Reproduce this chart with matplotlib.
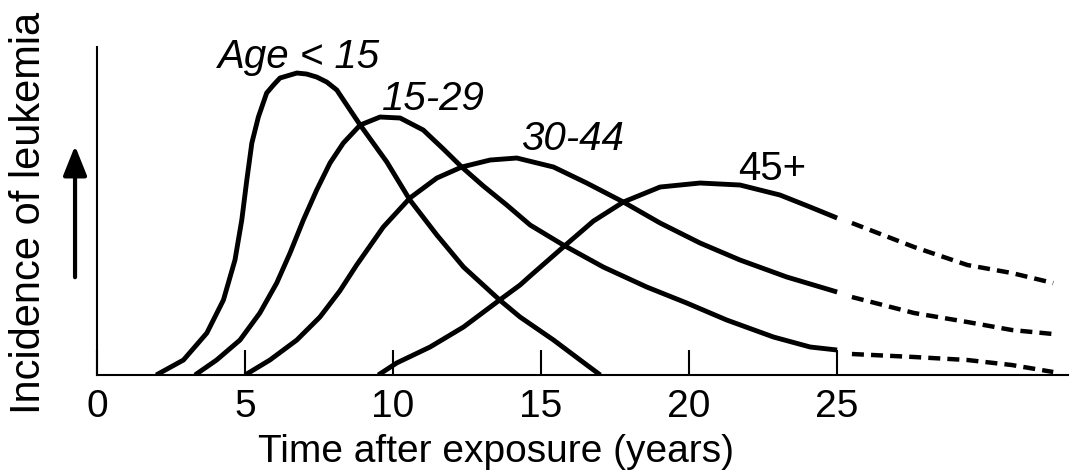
import matplotlib
matplotlib.use("Agg")
import matplotlib.pyplot as plt
from matplotlib.patches import FancyArrowPatch

plt.rcParams['font.family'] = ['Liberation Sans', 'DejaVu Sans']

# curves (x = years, y = relative incidence, arbitrary units)
age_lt15_x = [2.0, 2.92, 3.71, 4.27, 4.66, 4.89, 5.06, 5.23, 5.45, 5.73, 5.96, 6.18, 6.75, 7.08,
              7.42, 7.76, 8.1, 8.55, 8.89, 9.79, 10.57, 11.48, 12.38, 13.6, 14.29, 15.42, 16.32, 17.0]
age_lt15_y = [0, 15, 42, 75, 115, 155, 195, 232, 258, 282, 290, 297, 302, 301,
              298, 293, 285, 265, 250, 213, 175, 140, 108, 75, 58, 35, 15, 0]

age_15_29_x = [3.31, 4.04, 4.83, 5.5, 6.07, 6.52, 6.97, 7.42, 7.87, 8.32, 8.89, 9.56, 10.24, 11.02,
               11.7, 12.32, 13.05, 13.84, 14.63, 15.75, 17.1, 18.57, 19.92, 21.27, 22.85, 24.09, 25.0]
age_15_29_y = [0, 15, 35, 62, 92, 122, 155, 185, 212, 232, 250, 258, 257, 245,
               226, 208, 189, 170, 150, 130, 108, 88, 72, 55, 38, 28, 25]

age_30_44_x = [5.0, 5.84, 6.75, 7.53, 8.2, 8.77, 9.67, 10.57, 11.48, 12.32, 13.28, 14.18, 15.42,
               16.54, 17.78, 19.02, 20.37, 21.72, 23.3, 25.0]
age_30_44_y = [0, 15, 35, 58, 84, 110, 148, 177, 197, 208, 215, 217, 208,
               192, 173, 152, 132, 115, 98, 83]

age_45_x = [9.5, 10.12, 11.25, 12.38, 13.6, 14.29, 14.63, 15.75, 16.77, 17.78, 19.02, 20.37,
            21.72, 23.07, 24.09, 25.0]
age_45_y = [0, 12, 28, 48, 75, 90, 99, 128, 154, 173, 188, 192,
            190, 180, 168, 157]

# dashed continuations beyond 25 years
ext_x = [25.5, 27.6, 29.4, 30.9, 32.3]
ext_15_29_y = [21, 18, 15, 10, 3]
ext_30_44_y = [78, 62, 53, 45, 41]
ext_45_y = [152, 128, 110, 102, 92]

ticks = [0, 5, 10, 15, 20, 25]

labels = ['Age < 15', '15-29', '30-44', '45+']
label_x = [6.82, 11.35, 16.05, 22.8]
label_y = [307, 265, 225, 195]
label_style = ['italic', 'italic', 'italic', 'normal']

fig = plt.figure(figsize=(10.72, 4.75), dpi=100)
ax = fig.add_axes([0.0905, 0.2105, 0.9058, 0.6905])

for xs, ys in [(age_lt15_x, age_lt15_y), (age_15_29_x, age_15_29_y),
               (age_30_44_x, age_30_44_y), (age_45_x, age_45_y)]:
    ax.plot(xs, ys, color='black', lw=3.5, solid_capstyle='butt', solid_joinstyle='round')

for ys in [ext_15_29_y, ext_30_44_y, ext_45_y]:
    ax.plot(ext_x, ys, color='black', lw=3.2, linestyle=(0, (2.7, 1.6)),
            dash_capstyle='butt')

for t, x, y, st in zip(labels, label_x, label_y, label_style):
    ax.text(x, y, t, fontsize=29, style=st, ha='center', va='baseline')

ax.set_xlim(0, 32.8)
ax.set_ylim(0, 328)
ax.set_xticks(ticks)
ax.set_xticklabels([str(t) for t in ticks])
ax.set_yticks([])
ax.tick_params(axis='x', direction='in', length=18, width=1.5, labelsize=28, pad=10)
for s in ['top', 'right']:
    ax.spines[s].set_visible(False)
for s in ['left', 'bottom']:
    ax.spines[s].set_linewidth(1.5)
ax.patch.set_visible(False)

fig.text(0.463, 1 - 462 / 475, 'Time after exposure (years)', fontsize=28,
         ha='center', va='baseline')
fig.text(0.027, 0.5516, 'Incidence of leukemia', fontsize=30, rotation=90,
         ha='center', va='center')

arrow = FancyArrowPatch((0.07, 1 - 280 / 475), (0.07, 1 - 143 / 475),
                        transform=fig.transFigure, arrowstyle='-|>,head_length=0.5,head_width=0.2',
                        mutation_scale=36, lw=3, color='black')
fig.patches.append(arrow)

fig.savefig('out.png', dpi=100)
